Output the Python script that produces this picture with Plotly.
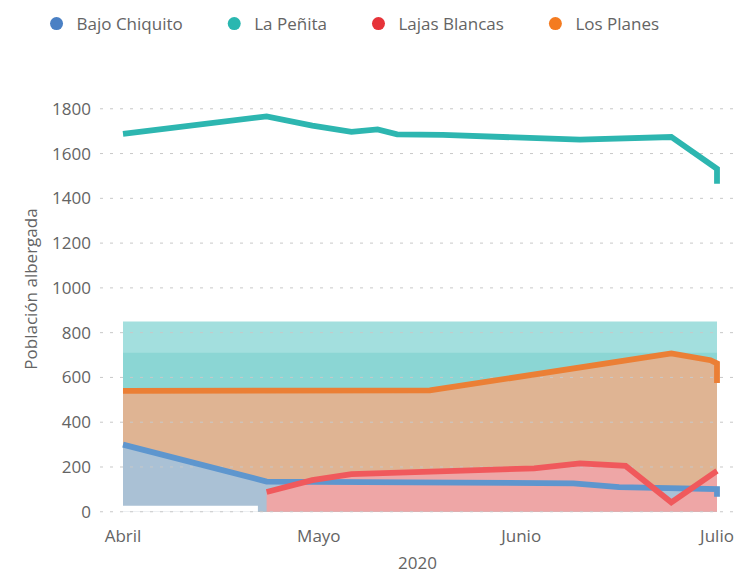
import plotly.graph_objects as go

# ---------------- data ----------------
penita_dates = ["2020-04-01", "2020-04-23", "2020-04-30", "2020-05-06", "2020-05-10",
                "2020-05-13", "2020-05-20", "2020-05-27", "2020-06-03", "2020-06-10",
                "2020-06-24", "2020-07-01", "2020-07-01"]
penita_values = [1688, 1766, 1725, 1697, 1708, 1686, 1683, 1674, 1671, 1662, 1674, 1532, 1465]

planes_dates = ["2020-04-01", "2020-04-23", "2020-05-18", "2020-06-24", "2020-06-30",
                "2020-07-01", "2020-07-01"]
planes_values = [540, 542, 542, 707, 677, 663, 575]

bajo_dates = ["2020-04-01", "2020-04-23", "2020-06-09", "2020-06-16", "2020-07-01", "2020-07-01"]
bajo_values = [300, 135, 127, 110, 101, 67]

lajas_dates = ["2020-04-23", "2020-04-30", "2020-05-06", "2020-06-03", "2020-06-10",
               "2020-06-17", "2020-06-24", "2020-07-01"]
lajas_values = [88, 141, 168, 194, 216, 205, 42, 183]

# background bands drawn behind the series
band_dates = ["2020-04-01", "2020-07-01"]
band_outer = [850, 850]
band_inner = [710, 710]

# blank strip at bottom-left of the filled area
gap_dates = ["2020-03-31", "2020-04-21 16:00"]
gap_level = [27, 27]

month_ticks = ["2020-04-01", "2020-05-01", "2020-06-01", "2020-07-01"]
month_labels = ["Abril", "Mayo", "Junio", "Julio"]
y_ticks = [0, 200, 400, 600, 800, 1000, 1200, 1400, 1600, 1800]

x_range = ["2020-03-28 11:25", "2020-07-03 18:12"]
y_range = [-10, 2000]

series_names = ["Bajo Chiquito", "La Peñita", "Lajas Blancas", "Los Planes"]
legend_colors = ["#4a80c4", "#2ab7b0", "#e63339", "#f47b20"]

FONT = "Open Sans"
GREY = "#646464"
FS = 17

fig = go.Figure()

def fill_trace(x, y, color):
    fig.add_trace(go.Scatter(x=x, y=y, mode="lines", line=dict(width=0, color=color),
                             fill="tozeroy", fillcolor=color, hoverinfo="skip",
                             showlegend=False))

# fills (opaque, layered)
fill_trace(band_dates, band_outer, "#a3dfde")
fill_trace(band_dates, band_inner, "#8bd6d4")
fill_trace(planes_dates, planes_values, "#dfb493")
fill_trace(bajo_dates, bajo_values, "#aac1d5")
fill_trace(lajas_dates, lajas_values, "#eea6a6")
fill_trace(gap_dates, gap_level, "#ffffff")

# dotted gridlines drawn over the fills
gx, gy = [], []
for t in y_ticks:
    gx += [x_range[0], x_range[1], None]
    gy += [t, t, None]
fig.add_trace(go.Scatter(x=gx, y=gy, mode="lines",
                         line=dict(color="#c8c8c8", width=1, dash="3px,7px"),
                         hoverinfo="skip", showlegend=False))

# series lines
line_w = 5.8
fig.add_trace(go.Scatter(x=penita_dates, y=penita_values, mode="lines",
                         line=dict(color="#2db6b0", width=line_w), showlegend=False))
fig.add_trace(go.Scatter(x=planes_dates, y=planes_values, mode="lines",
                         line=dict(color="#eb7f35", width=line_w), showlegend=False))
fig.add_trace(go.Scatter(x=bajo_dates, y=bajo_values, mode="lines",
                         line=dict(color="#5e96ce", width=line_w), showlegend=False))
fig.add_trace(go.Scatter(x=lajas_dates, y=lajas_values, mode="lines",
                         line=dict(color="#f0595c", width=line_w), showlegend=False))

# legend entries (circle markers)
pad = "\u00a0" * 6
for i, (name, col) in enumerate(zip(series_names, legend_colors)):
    label = name + (pad if i < len(series_names) - 1 else "")
    fig.add_trace(go.Scatter(x=[None], y=[None], mode="markers", name=label,
                             marker=dict(symbol="circle", size=13, color=col)))

fig.update_layout(
    width=738, height=574,
    margin=dict(l=100, r=3, t=64, b=60),
    paper_bgcolor="white", plot_bgcolor="white",
    font=dict(family=FONT, size=FS, color=GREY),
    legend=dict(orientation="h", xref="container", yref="container",
                x=0.0495, y=0.9582, xanchor="left", yanchor="middle",
                font=dict(family=FONT, size=FS, color=GREY),
                itemclick=False),
    xaxis=dict(type="date", range=x_range, tickvals=month_ticks, ticktext=month_labels,
               showgrid=False, zeroline=False, showline=False, ticks="",
               automargin=False,
               ticklabelstandoff=10, tickfont=dict(size=FS, color=GREY),
               title=dict(text="2020", font=dict(size=FS, color=GREY), standoff=17)),
    yaxis=dict(range=y_range, tickvals=y_ticks, showgrid=False, zeroline=False,
               showline=False, ticks="", ticklabelstandoff=8, automargin=False,
               tickfont=dict(size=FS, color=GREY),
               title=dict(text="Población albergada", font=dict(size=FS, color=GREY),
                          standoff=10)),
)

fig.write_html("out.html",
               config={"displayModeBar": False},
               post_script="document.body.style.margin='0';document.body.style.overflow='hidden';")
